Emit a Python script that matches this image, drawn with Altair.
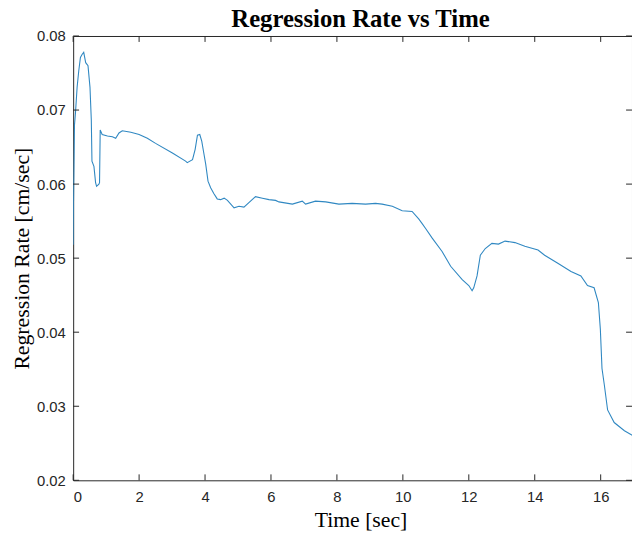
import altair as alt
import pandas as pd

# Time [sec]
t = [0.00, 0.01, 0.04, 0.07, 0.12, 0.17, 0.22, 0.27, 0.32, 0.38, 0.45, 0.51, 0.55, 0.57,
     0.63, 0.68, 0.71, 0.78, 0.80, 0.82, 0.88, 1.04, 1.19, 1.29, 1.39, 1.49, 1.75, 2.00,
     2.25, 2.50, 3.01, 3.41, 3.46, 3.62, 3.70, 3.77, 3.84, 3.90, 3.95, 4.02, 4.09, 4.17,
     4.27, 4.37, 4.47, 4.58, 4.68, 4.88, 5.03, 5.18, 5.33, 5.53, 5.74, 5.94, 6.14, 6.24,
     6.65, 6.95, 7.05, 7.35, 7.66, 8.06, 8.46, 8.87, 9.17, 9.37, 9.68, 9.98, 10.28, 10.48,
     10.58, 10.69, 10.89, 11.19, 11.45, 11.80, 12.00, 12.10, 12.15, 12.25, 12.35, 12.50,
     12.70, 12.90, 13.10, 13.40, 13.70, 14.10, 14.30, 14.70, 15.10, 15.40, 15.60, 15.80,
     15.93, 15.99, 16.04, 16.11, 16.21, 16.41, 16.72, 17.07, 17.20]

# Regression rate [cm/sec]
rate = [0.0518, 0.0576, 0.0680, 0.0696, 0.0731, 0.0753, 0.0771, 0.0775, 0.0778, 0.0764,
        0.0760, 0.0731, 0.0687, 0.0631, 0.0624, 0.0602, 0.0597, 0.0600, 0.0602, 0.0673,
        0.0667, 0.0665, 0.0664, 0.0662, 0.0669, 0.0672, 0.0670, 0.0667, 0.0662, 0.0655,
        0.0642, 0.0631, 0.0629, 0.0633, 0.0647, 0.0666, 0.0667, 0.0658, 0.0645, 0.0627,
        0.0604, 0.0595, 0.0587, 0.0580, 0.0579, 0.0581, 0.0578, 0.0568, 0.0570, 0.0569,
        0.0575, 0.0583, 0.0581, 0.0579, 0.0578, 0.0576, 0.0573, 0.0577, 0.0573, 0.0577,
        0.0576, 0.0573, 0.0574, 0.0573, 0.0574, 0.0573, 0.0570, 0.0564, 0.0563, 0.0553,
        0.0547, 0.0540, 0.0527, 0.0509, 0.0489, 0.0471, 0.0463, 0.0456, 0.0460, 0.0476,
        0.0504, 0.0513, 0.0520, 0.0519, 0.0523, 0.0521, 0.0516, 0.0511, 0.0504, 0.0493,
        0.0482, 0.0476, 0.0463, 0.0460, 0.0440, 0.0404, 0.0351, 0.0329, 0.0295, 0.0278,
        0.0267, 0.0258, 0.0256]

x_ticks = [0, 2, 4, 6, 8, 10, 12, 14, 16]
y_ticks = [0.02, 0.03, 0.04, 0.05, 0.06, 0.07, 0.08]

W, H = 566, 450
AX = "#262626"

df = pd.DataFrame({"t": t, "v": rate})
xt = pd.DataFrame({"t": x_ticks})
yt = pd.DataFrame({"v": y_ticks})

xscale = alt.Scale(domain=[0, 16.95], nice=False, zero=False)
yscale = alt.Scale(domain=[0.02, 0.08], nice=False, zero=False)
xaxis = alt.Axis(values=x_ticks, format="d", title="Time [sec]", titleX=W / 2 + 8)
yaxis = alt.Axis(values=y_ticks, format=".2f", title="Regression Rate [cm/sec]")

line = alt.Chart(df).mark_line(color="#3088c2", strokeWidth=1.1, clip=True).encode(
    x=alt.X("t:Q", scale=xscale, axis=xaxis),
    y=alt.Y("v:Q", scale=yscale, axis=yaxis),
)

tk = 6
bottom = alt.Chart(xt).mark_rule(color=AX, strokeWidth=1).encode(
    x=alt.X("t:Q", scale=xscale, axis=xaxis), y=alt.value(H), y2=alt.value(H - tk))
top = alt.Chart(xt).mark_rule(color=AX, strokeWidth=1).encode(
    x=alt.X("t:Q", scale=xscale, axis=xaxis), y=alt.value(0), y2=alt.value(tk))
left = alt.Chart(yt).mark_rule(color=AX, strokeWidth=1).encode(
    y=alt.Y("v:Q", scale=yscale, axis=yaxis), x=alt.value(0), x2=alt.value(tk))
right = alt.Chart(yt).mark_rule(color=AX, strokeWidth=1).encode(
    y=alt.Y("v:Q", scale=yscale, axis=yaxis), x=alt.value(W - tk), x2=alt.value(W))

chart = alt.layer(line, bottom, top, left, right).properties(
    width=W, height=H,
    title=alt.TitleParams("Regression Rate vs Time", font="Liberation Serif", fontSize=25,
                          fontWeight="bold", color="#000000", frame="group", offset=0,
                          dy=3, dx=8),
    autosize=alt.AutoSizeParams(type="none"),
    padding={"left": 66, "top": 25, "right": 0, "bottom": 49},
).configure_view(
    stroke=AX, strokeWidth=1
).configure_axis(
    domain=False, ticks=False, grid=False,
    labelFont="Liberation Sans", labelFontSize=15, labelColor=AX,
    titleFont="Liberation Serif", titleFontSize=22, titleFontWeight="normal",
    titleColor="#000000",
).configure_axisX(
    labelPadding=9, titlePadding=6
).configure_axisY(
    labelPadding=8, titlePadding=3
)

chart.save("out.html", embed_options={"renderer": "svg", "actions": False})
